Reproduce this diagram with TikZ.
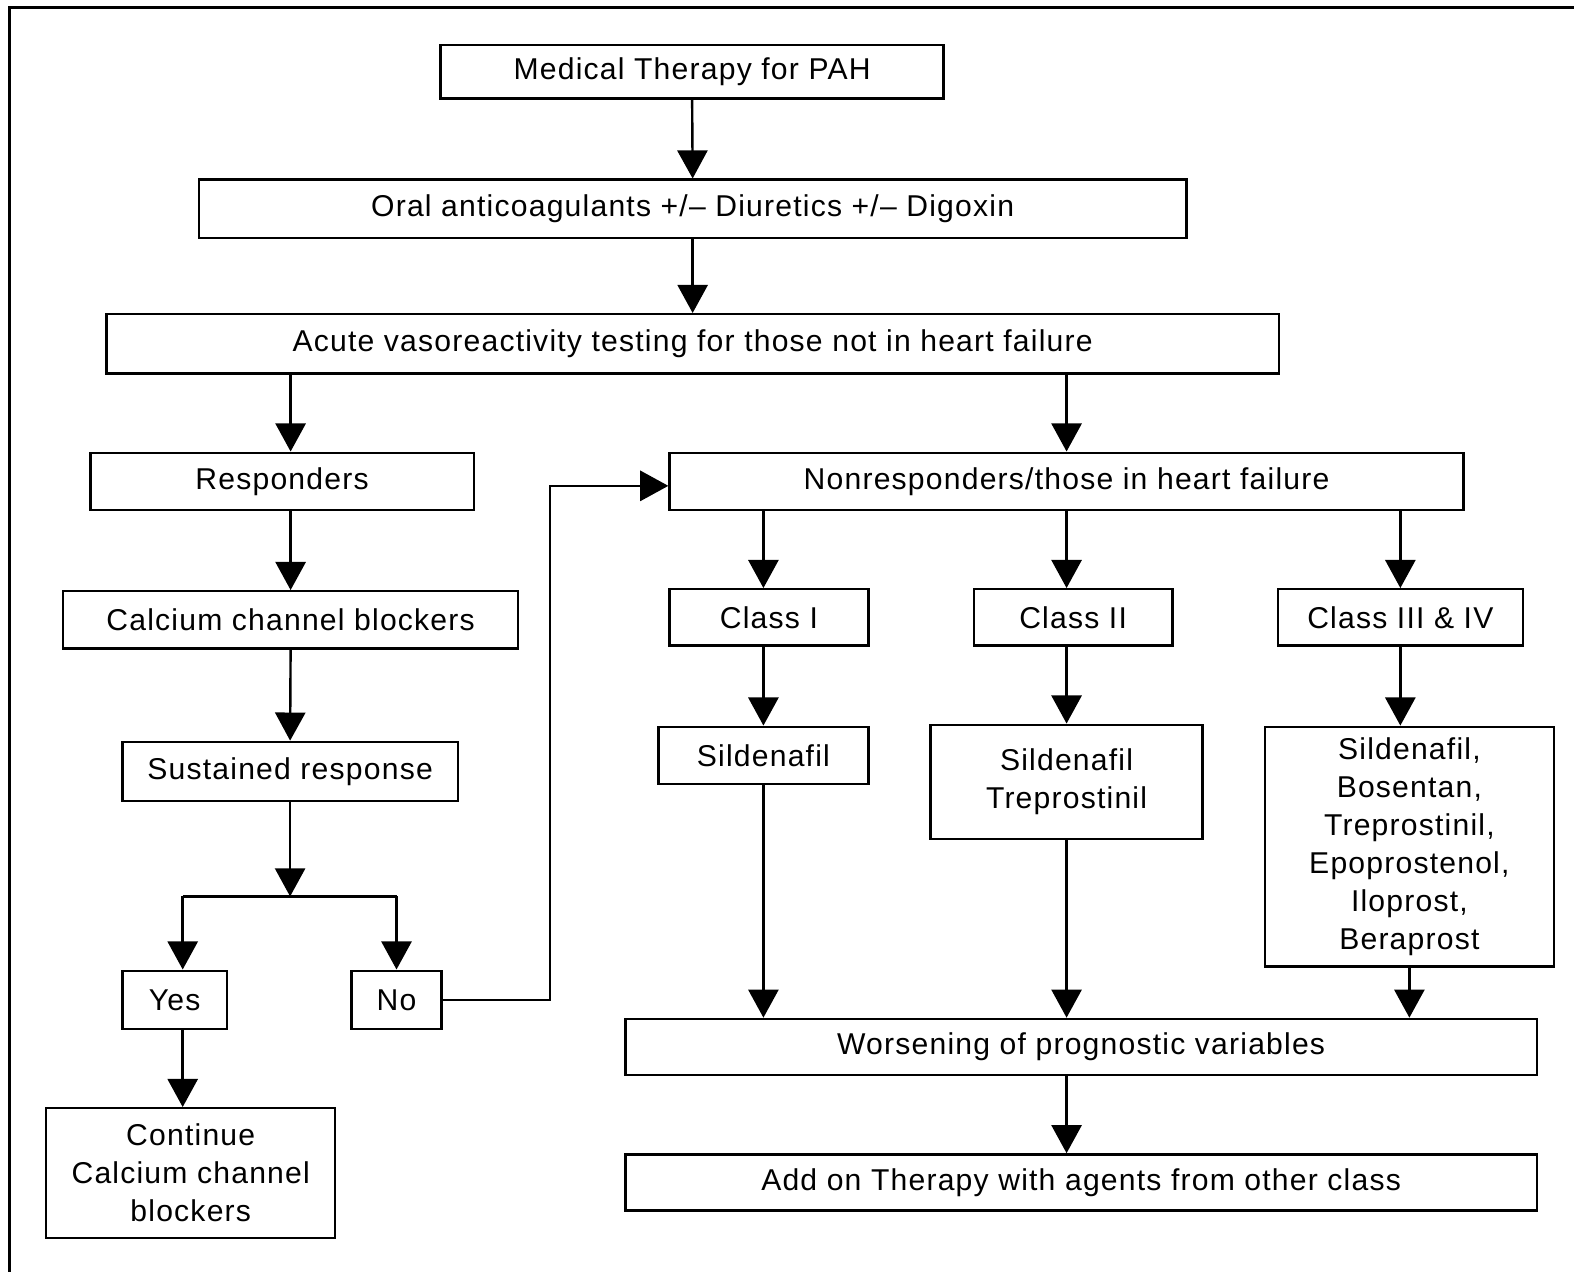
\documentclass[tikz,border=0pt]{standalone}
\usepackage{fontspec}
\setmainfont{Liberation Sans}[LetterSpace=4]
\usetikzlibrary{arrows.meta}
\begin{document}
\begin{tikzpicture}[x=1pt,y=-1pt,
  box/.style={draw, line width=2.4pt, inner sep=0pt, align=center,
    font=\fontsize{30}{38}\selectfont},
  arr/.style={line width=2.4pt, -{Triangle[width=30pt,length=28pt]}},
  ln/.style={line width=2.4pt}]
\useasboundingbox (0,0) rectangle (1568,1267);
\draw[line width=3pt] (9,1290) -- (9,7) -- (1600,7);
% nodes
\node[box, minimum width=501pt, minimum height=53pt] (med) at (689.5,71.5) {Medical Therapy for PAH};
\node[box, minimum width=984pt, minimum height=58pt] (oral) at (690,208) {Oral anticoagulants +/– Diuretics +/– Digoxin};
\node[box, minimum width=1168pt, minimum height=59pt] (acute) at (690,342.5) {Acute vasoreactivity testing for those not in heart failure};
\node[box, minimum width=382pt, minimum height=57pt] (resp) at (281,479.5) {Responders};
\node[box, minimum width=791pt, minimum height=57pt] (nonr) at (1062.5,479.5) {Nonresponders/those in heart failure};
\node[box, minimum width=453pt, minimum height=57pt] (ccb) at (289.5,617.5) {Calcium channel blockers};
\node[box, minimum width=198pt, minimum height=56pt] (c1) at (766,615) {Class I};
\node[box, minimum width=198pt, minimum height=56pt] (c2) at (1069,615) {Class II};
\node[box, minimum width=244pt, minimum height=56pt] (c34) at (1395,615) {Class III \& IV};
\node[box, minimum width=334pt, minimum height=59pt] (sus) at (289,768.5) {Sustained response};
\node[box, minimum width=209pt, minimum height=57pt] (s1) at (760.5,752.5) {Sildenafil};
\node[box, minimum width=271pt, minimum height=114pt] (s2) at (1062.5,779) {Sildenafil\\Treprostinil};
\node[box, minimum width=288pt, minimum height=239pt] (s34) at (1404,843.5) {Sildenafil,\\Bosentan,\\Treprostinil,\\Epoprostenol,\\Iloprost,\\Beraprost};
\node[box, minimum width=104pt, minimum height=58pt] (yes) at (174,996) {Yes};
\node[box, minimum width=90pt, minimum height=58pt] (no) at (395,996) {No};
\node[box, minimum width=908pt, minimum height=56pt] (wor) at (1077,1043) {Worsening of prognostic variables};
\node[box, minimum width=908pt, minimum height=56pt] (add) at (1077,1178) {Add on Therapy with agents from other class};
\node[box, minimum width=288pt, minimum height=129pt] (cont) at (190,1168.5) {Continue\\Calcium channel\\blockers};
% junction coordinates
\coordinate (j) at (289,893);
\coordinate (jy) at (182,893);
\coordinate (jn) at (395,893);
\coordinate (k) at (548,0);
\coordinate (kin) at ([yshift=-4.5pt]nonr.west);
% connectors
\draw[arr] (med.south) -- (oral.north);
\draw[arr] (oral.south) -- (acute.north);
\draw[arr] (acute.south -| ccb.north) -- (resp.north -| ccb.north);
\draw[arr] (acute.south -| nonr.north) -- (nonr.north);
\draw[arr] (resp.south -| ccb.north) -- (ccb.north);
\draw[arr] (ccb.south) -- (sus.north);
\draw[arr] (sus.south) -- (j);
\draw[ln] (jy) -- (jn);
\draw[arr] (jy) -- (yes.north -| jy);
\draw[arr] (jn) -- (no.north);
\draw[arr] (yes.south -| jy) -- (cont.north -| jy);
\draw[arr] (no.east) -- (no.east -| k) -- (k |- kin) -- (kin);
\draw[arr] (nonr.south -| s1.north) -- (c1.north -| s1.north);
\draw[arr] (nonr.south -| s2.north) -- (c2.north -| s2.north);
\draw[arr] (nonr.south -| c34.north) -- (c34.north);
\draw[arr] (c1.south -| s1.north) -- (s1.north);
\draw[arr] (c2.south -| s2.north) -- (s2.north);
\draw[arr] (c34.south) -- (s34.north -| c34.south);
\draw[arr] (s1.south) -- (wor.north -| s1.south);
\draw[arr] (s2.south) -- (wor.north -| s2.south);
\draw[arr] (s34.south) -- (wor.north -| s34.south);
\draw[arr] (wor.south -| s2.south) -- (add.north -| s2.south);
\end{tikzpicture}
\end{document}
